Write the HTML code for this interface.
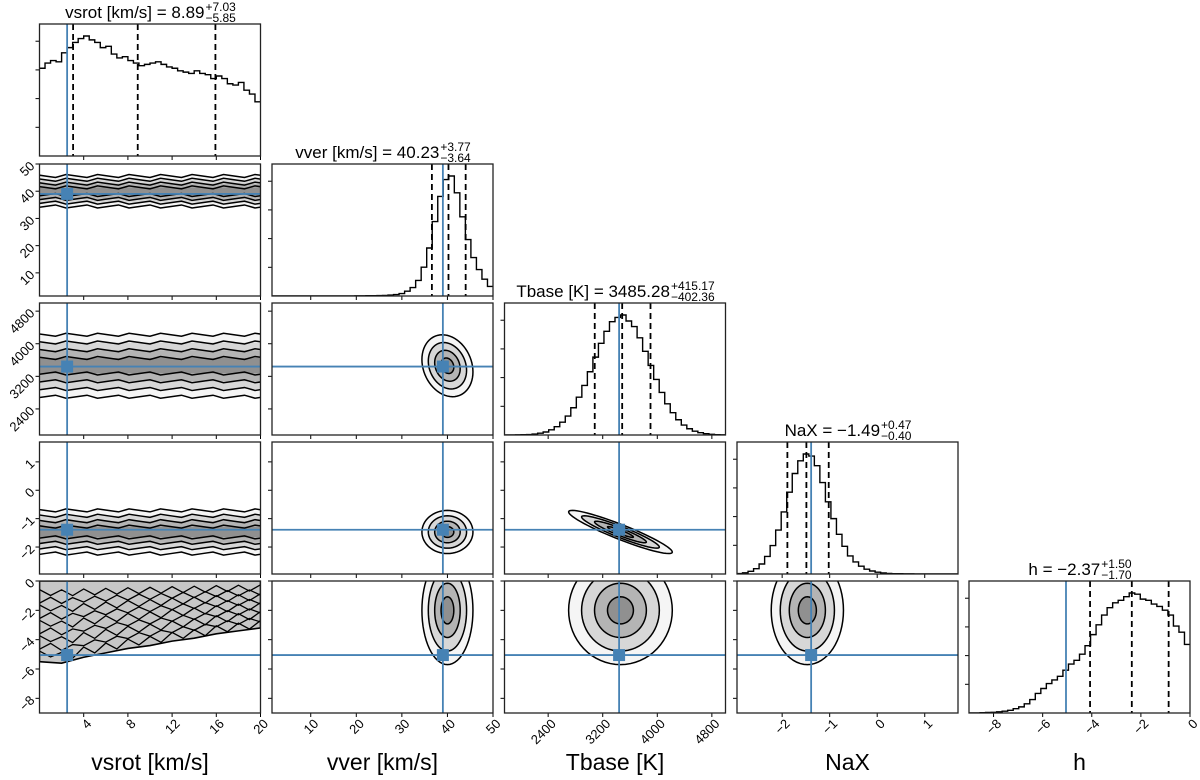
<!DOCTYPE html>
<html><head><meta charset="utf-8">
<style>
html,body{margin:0;padding:0;background:#fff;}
svg{display:block;font-family:"Liberation Sans","DejaVu Sans",sans-serif;}
</style></head>
<body>
<svg id="fig" width="1200" height="780" viewBox="0 0 1200 780" xmlns="http://www.w3.org/2000/svg"></svg>
<script>
// ---------- data ----------
const paramNames = ["vsrot [km/s]","vver [km/s]","Tbase [K]","NaX","h"];
const paramKeys = ["vsrot","vver","tbase","nax","h"];
const rangeLo = [0, 1.5, 1760, -2.95, -9];
const rangeHi = [20, 50, 5000, 1.7, 0];
const truths = [2.5, 39.0, 3440, -1.39, -5.05];
const q16 = [3.04, 36.59, 3082.92, -1.89, -4.07];
const q50 = [8.89, 40.23, 3485.28, -1.49, -2.37];
const q84 = [15.92, 44.00, 3900.45, -1.02, -0.87];
const titleMain = ["vsrot [km/s] = 8.89","vver [km/s] = 40.23","Tbase [K] = 3485.28","NaX = \u22121.49","h = \u22122.37"];
const titlePlus = ["+7.03","+3.77","+415.17","+0.47","+1.50"];
const titleMinus = ["\u22125.85","\u22123.64","\u2212402.36","\u22120.40","\u22121.70"];
const tickVals = [[4,8,12,16,20],[10,20,30,40,50],[2400,3200,4000,4800],[-2,-1,0,1],[-8,-6,-4,-2,0]];
const histVsrot = [0.68,0.72,0.74,0.73,0.80,0.84,0.88,0.91,0.93,0.90,0.88,0.84,0.85,0.79,0.76,0.77,0.74,0.72,0.70,0.71,0.72,0.73,0.71,0.69,0.68,0.66,0.65,0.64,0.66,0.64,0.63,0.60,0.62,0.60,0.56,0.55,0.57,0.51,0.48,0.42];
const histVver = [0,0,0,0,0,0,0,0,0,0,0,0,0,0,0,0.001,0.001,0.002,0.003,0.004,0.005,0.008,0.012,0.02,0.04,0.07,0.13,0.24,0.40,0.62,0.83,0.97,1.0,0.86,0.66,0.47,0.32,0.22,0.14,0.08];
const histTbase = [0.0002,0.0005,0.001,0.002,0.004,0.008,0.015,0.025,0.043,0.069,0.107,0.158,0.227,0.315,0.413,0.527,0.649,0.764,0.864,0.944,0.98,1.0,0.95,0.904,0.81,0.697,0.58,0.463,0.355,0.26,0.186,0.127,0.083,0.052,0.032,0.019,0.011,0.006,0.003,0.0015];
const histNax = [0.004,0.01,0.022,0.044,0.083,0.146,0.236,0.365,0.516,0.68,0.835,0.94,0.997,0.98,0.9,0.76,0.6,0.46,0.33,0.23,0.15,0.10,0.065,0.04,0.025,0.015,0.009,0.005,0.003,0.002,0.001,0.001,0,0,0,0,0,0,0,0];
const histH = [0,0,0.002,0.004,0.006,0.01,0.015,0.022,0.035,0.05,0.075,0.11,0.16,0.2,0.24,0.27,0.30,0.35,0.40,0.43,0.48,0.55,0.64,0.72,0.80,0.86,0.90,0.92,0.95,0.98,0.97,0.93,0.92,0.89,0.87,0.84,0.80,0.71,0.66,0.56];
const hists = [histVsrot,histVver,histTbase,histNax,histH];
const gMean = [10, 40, 3460, -1.47, -2.0];
const gSd = [6, 2.8, 380, 0.38, 1.85];
const corrTN = -0.93;
const contourLevels = [0.5, 1.0, 1.5, 2.0];
const blobX = [0, 2, 4, 6, 8, 10, 12, 14, 16, 18, 20];
const blobY = [-5.5, -5.6, -5.2, -4.9, -4.6, -4.4, -4.1, -3.9, -3.6, -3.4, -3.2];

// ---------- layout ----------
const colX = [39.5, 272, 504.5, 737, 969];
const rowY = [24, 164, 303, 442, 581];
const PW = 221, PH = 132;
const BLUE = "#4682b4";
const NS = "http://www.w3.org/2000/svg";
const svg = document.getElementById("fig");
function mk(tag, attrs, parent){ const e=document.createElementNS(NS,tag); for(const k in attrs) e.setAttribute(k,attrs[k]); (parent||svg).appendChild(e); return e; }
function sx(i, v){ return colX[i] + (v - rangeLo[i])/(rangeHi[i]-rangeLo[i])*PW; }
function sy(r, i, v){ return rowY[r] + PH - (v - rangeLo[i])/(rangeHi[i]-rangeLo[i])*PH; }
function fmt(v){ return (v<0?"\u2212":"") + Math.abs(v); }
const defs = mk("defs",{});
const levelAlpha = [0.04, 0.12, 0.16, 0.2];

function corr(a,b){ if((a===2&&b===3)||(a===3&&b===2)) return corrTN; if((a===1&&b===2)||(a===2&&b===1)) return -0.2; return 0; }

for(let r=0;r<5;r++){
  for(let c=0;c<=r;c++){
    const g = mk("g",{});
    
    
    const cp = mk("clipPath",{id:"cp"+r+c}, defs);
    mk("rect",{x:colX[c],y:rowY[r],width:PW,height:PH},cp);
    const inner = mk("g",{"clip-path":"url(#cp"+r+c+")"}, g);
    if(r===c){
      const h = hists[c]; const n=h.length; const mx=Math.max(...h)*1.1;
      let d="";
      for(let i=0;i<n;i++){
        const x0=sx(c, rangeLo[c]+(rangeHi[c]-rangeLo[c])*i/n), x1=sx(c, rangeLo[c]+(rangeHi[c]-rangeLo[c])*(i+1)/n);
        const y=rowY[r]+PH-h[i]/mx*PH;
        d += (i===0?"M"+x0+","+y:"L"+x0+","+y)+"L"+x1+","+y;
      }
      const hp = mk("path",{d:d,fill:"none",stroke:"#000","stroke-width":1.4},inner);
      
      
      [q16[c],q50[c],q84[c]].forEach((q,k)=>{
        const l = mk("line",{x1:sx(c,q),x2:sx(c,q),y1:rowY[r],y2:rowY[r]+PH,stroke:"#000","stroke-width":1.8,"stroke-dasharray":"6,4"},inner);
        
        
      });
      const tl = mk("line",{x1:sx(c,truths[c]),x2:sx(c,truths[c]),y1:rowY[r],y2:rowY[r]+PH,stroke:BLUE,"stroke-width":1.8},inner);
      
      
      const tg = mk("g",{}, g);
      
      
      const tm = mk("text",{x:0,y:rowY[r]-6,"font-size":17,fill:"#000"},tg); tm.textContent=titleMain[c];
      const tp = mk("text",{x:0,y:rowY[r]-13,"font-size":12,fill:"#000"},tg); tp.textContent=titlePlus[c];
      const tn = mk("text",{x:0,y:rowY[r]-2,"font-size":12,fill:"#000"},tg); tn.textContent=titleMinus[c];
      const w1=tm.getComputedTextLength(), w2=Math.max(tp.getComputedTextLength(),tn.getComputedTextLength());
      const start = colX[c]+PW/2-(w1+w2)/2;
      tm.setAttribute("x",start); tp.setAttribute("x",start+w1+1); tn.setAttribute("x",start+w1+1);
    } else {
      if(c===0 && r<4){
        contourLevels.slice().reverse().forEach((k,li)=>{
          const y0=sy(r,r,gMean[r]+k*gSd[r]), y1=sy(r,r,gMean[r]-k*gSd[r]);
          let dTop="", dBot="";
          for(let i=0;i<=22;i++){
            const x=colX[c]-5+i*(PW+10)/22, w=(i%3-1)*1.5;
            dTop+=(i?"L":"M")+x+","+(y0+w); dBot+=(i?"L":"M")+x+","+(y1-w);
          }
          const b = mk("rect",{x:colX[c]-5,y:y0,width:PW+10,height:y1-y0,fill:"rgba(0,0,0,"+levelAlpha[li]+")",stroke:"none"},inner);
          
          
          const l1 = mk("path",{d:dTop,fill:"none",stroke:"#000","stroke-width":1.5},inner);
          
          
          const l2 = mk("path",{d:dBot,fill:"none",stroke:"#000","stroke-width":1.5},inner);
          
          
        });
      } else if(c===0 && r===4){
        let d="M"+sx(0,0)+","+sy(4,4,0);
        for(let i=0;i<blobX.length;i++) d+="L"+sx(0,blobX[i])+","+sy(4,4,blobY[i]);
        d+="L"+sx(0,20)+","+sy(4,4,0)+"Z";
        const b = mk("path",{d:d,fill:"rgba(0,0,0,0.22)",stroke:"#000","stroke-width":1.6},inner);
        
        
        for(let j=1;j<10;j++){
          let dd="";
          for(let i=0;i<blobX.length*2-1;i++){ const bi=Math.floor(i/2); const xv=i/2*2; const yy=blobY[bi]*(1-j/10.5)+((i+j)%2?0.2:-0.2); dd+=(i?"L":"M")+sx(0,xv)+","+sy(4,4,yy); }
          const l = mk("path",{d:dd,fill:"none",stroke:"#000","stroke-width":1.3},inner);
          
          
        }
      } else {
        const rho = corr(c,r);
        contourLevels.slice().reverse().forEach((k,li)=>{
          let d="";
          for(let t=0;t<=64;t++){
            const a=t/64*2*Math.PI;
            const vx=gMean[c]+k*gSd[c]*Math.cos(a);
            const vy=gMean[r]+k*gSd[r]*(rho*Math.cos(a)+Math.sqrt(1-rho*rho)*Math.sin(a));
            d+=(t?"L":"M")+sx(c,vx)+","+sy(r,r,vy);
          }
          const e = mk("path",{d:d+"Z",fill:"rgba(0,0,0,"+levelAlpha[li]+")",stroke:"#000","stroke-width":1.5},inner);
          
          
        });
      }
      const vl = mk("line",{x1:sx(c,truths[c]),x2:sx(c,truths[c]),y1:rowY[r],y2:rowY[r]+PH,stroke:BLUE,"stroke-width":1.8},inner);
      
      
      const hl = mk("line",{x1:colX[c],x2:colX[c]+PW,y1:sy(r,r,truths[r]),y2:sy(r,r,truths[r]),stroke:BLUE,"stroke-width":1.8},inner);
      
      
      const mkr = mk("rect",{x:sx(c,truths[c])-6,y:sy(r,r,truths[r])-6,width:12,height:12,fill:BLUE},inner);
      
      
      tickVals[r].forEach(v=>{
        const y=sy(r,r,v); if(y<rowY[r]-0.5||y>rowY[r]+PH+0.5) return;
        mk("line",{x1:colX[c]-4,x2:colX[c],y1:y,y2:y,stroke:"#000","stroke-width":1},g);
        if(c===0){
          const t=mk("text",{x:colX[c]-7,y:y+4,"font-size":13,"text-anchor":"end",transform:"rotate(-45 "+(colX[c]-7)+" "+y+")"},g);
          t.textContent=fmt(v);
          
          
        }
      });
    }
    if(r===c){
      for(let k=1;k<=4;k++){ const y=rowY[r]+PH-k*PH/4.6; mk("line",{x1:colX[c]-4,x2:colX[c],y1:y,y2:y,stroke:"#000","stroke-width":1},g); }
    }
    tickVals[c].forEach(v=>{
      const x=sx(c,v); if(x<colX[c]-0.5||x>colX[c]+PW+0.5) return;
      mk("line",{x1:x,x2:x,y1:rowY[r]+PH,y2:rowY[r]+PH+4,stroke:"#000","stroke-width":1},g);
      if(r===4){
        const yy=rowY[r]+PH+8;
        const t=mk("text",{x:x+5,y:yy+5,"font-size":13,"text-anchor":"end",transform:"rotate(-45 "+(x+5)+" "+yy+")"},g);
        t.textContent=fmt(v);
        
        
      }
    });
    const fr = mk("rect",{x:colX[c],y:rowY[r],width:PW,height:PH,fill:"none",stroke:"#222","stroke-width":1.3},g);
    
    
  }
  const lab = mk("text",{x:colX[r]+PW/2,y:770,"font-size":23,"text-anchor":"middle",fill:"#000"});
  lab.textContent = paramNames[r];
  
  
}
</script>
</body></html>
